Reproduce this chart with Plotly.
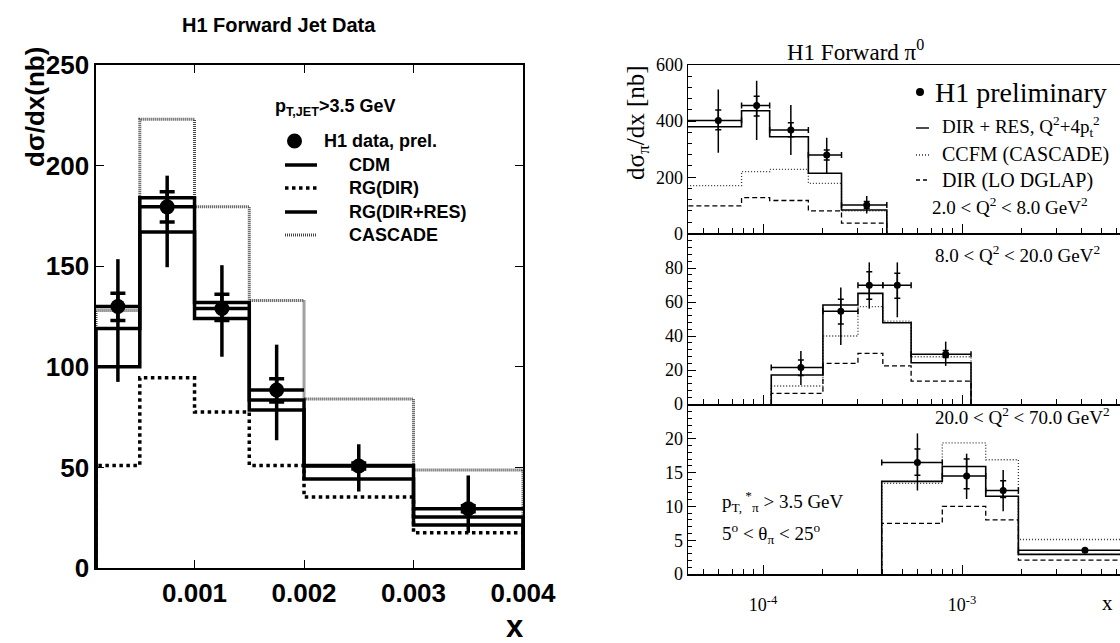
import plotly.graph_objects as go

W, H = 1120, 643
def px(x): return x / W
def py(y): return 1 - y / H

# ---------------- Left panel data (H1 forward jets) ----------------
jet_edges = [0.0001, 0.0005, 0.001, 0.0015, 0.002, 0.003, 0.004]
jet_x = [0.0003, 0.00075, 0.00125, 0.00175, 0.0025, 0.0035]
jet_y = [130, 179.5, 129, 88.5, 50.7, 29.5]
jet_tot_up = [153.5, 195, 150.5, 111, 61.5, 46]
jet_tot_dn = [92.5, 149.5, 105, 63.5, 38, 17.5]
jet_stat_up = [136.5, 187, 136, 94, 52.2, 31]
jet_stat_dn = [123, 172, 123, 82.5, 49.2, 28]
cdm = [100, 184, 132, 83.5, 51, 25.3]
rg_dir = [51, 94.5, 77.5, 51, 35.3, 17.5]
rg_dirres = [119, 167, 124, 78.5, 44.2, 21.4]
cascade = [128, 223, 179.5, 133, 84, 48.7]
jet_xticks = [0.001, 0.002, 0.003, 0.004]
jet_xticklabels = ["0.001", "0.002", "0.003", "0.004"]

# ---------------- Right panels data (H1 forward pi0) ----------------
top_edges = [4.0e-5, 7.8e-5, 1.08e-4, 1.69e-4, 2.48e-4, 4.19e-4]
top_x = [5.96e-5, 9.29e-5, 1.38e-4, 2.09e-4, 3.32e-4]
top_y = [402, 456, 368, 279, 101]
top_tot_up = [513, 544, 457, 341, 133]
top_tot_dn = [287, 333, 279, 214, 71]
top_stat_up = [440, 489, 394, 297, 113]
top_stat_dn = [369, 418, 344, 261, 89]
top_dirres = [380, 437, 344, 214, 83]
top_ccfm = [170, 220, 228, 178, 80]
top_dir = [98, 127, 117, 80, 36]

mid_edges = [1.1e-4, 2.0e-4, 3.0e-4, 4.0e-4, 5.55e-4, 1.11e-3]
mid_x = [1.55e-4, 2.46e-4, 3.42e-4, 4.73e-4, 8.28e-4]
mid_y = [21.4, 54.5, 69.8, 69.8, 29.2]
mid_tot_up = [31.2, 68.6, 83.3, 83.3, 36.7]
mid_tot_dn = [11.2, 34.7, 56.1, 51.0, 22.4]
mid_stat_up = [25.9, 61.6, 77.8, 76.9, 31.4]
mid_stat_dn = [16.7, 47.0, 61.6, 62.2, 27.3]
mid_dirres = [17.1, 58.2, 65.1, 47.8, 24.3]
mid_ccfm = [10.6, 40.0, 57.3, 48.8, 27.8]
mid_dir = [6.3, 23.9, 29.8, 22.4, 13.5]

bot_edges = [3.95e-4, 7.96e-4, 1.316e-3, 1.92e-3, 8.0e-3]
bot_x = [5.97e-4, 1.055e-3, 1.61e-3, 4.15e-3]
bot_y = [16.5, 14.5, 12.35, 3.53]
bot_tot_up = [20.8, 17.8, 15.4, 3.85]
bot_tot_dn = [12.35, 11.1, 9.3, 3.2]
bot_stat_up = [18.5, 17.0, 13.8, 3.7]
bot_stat_dn = [14.6, 12.6, 11.3, 3.35]
bot_dirres = [13.7, 15.9, 11.5, 2.9]
bot_ccfm = [13.4, 19.4, 16.9, 5.1]
bot_dir = [7.5, 10.0, 8.0, 2.06]

log_major = [1e-4, 1e-3]
log_major_labels = ["10<sup>-4</sup>", "10<sup>-3</sup>"]
log_minor = [m * d for d in (1e-5, 1e-4, 1e-3) for m in range(2, 10)]

SANS = "Liberation Sans, Arial, Helvetica, sans-serif"
SERIF = "Liberation Serif, Times New Roman, serif"


def step(edges, vals):
    xs, ys = [edges[0]], [0]
    for i, v in enumerate(vals):
        xs += [edges[i], edges[i + 1]]
        ys += [v, v]
    xs.append(edges[-1])
    ys.append(0)
    return xs, ys


def xerr(edges, xs):
    lo = [x - edges[i] for i, x in enumerate(xs)]
    hi = [edges[i + 1] - x for i, x in enumerate(xs)]
    return hi, lo


fig = go.Figure()

# ---- left histograms
for vals, dash, width, color in [
    (cascade, "1px,1px", 3, "#444444"),
    (rg_dir, "dot", 3.5, "black"),
    (cdm, "solid", 3.5, "black"),
    (rg_dirres, "solid", 3.5, "black"),
]:
    xs, ys = step(jet_edges, vals)
    fig.add_trace(go.Scatter(x=xs, y=ys, mode="lines", xaxis="x", yaxis="y",
                             line=dict(color=color, width=width, dash=dash),
                             hoverinfo="skip"))

hi, lo = xerr(jet_edges, jet_x)
fig.add_trace(go.Scatter(
    x=jet_x, y=jet_y, mode="markers", xaxis="x", yaxis="y",
    marker=dict(size=15, color="black"),
    error_y=dict(type="data", symmetric=False,
                 array=[u - y for u, y in zip(jet_tot_up, jet_y)],
                 arrayminus=[y - d for d, y in zip(jet_tot_dn, jet_y)],
                 width=0, thickness=3.5, color="black"),
    error_x=dict(type="data", symmetric=False, array=hi, arrayminus=lo,
                 width=0, thickness=3.5, color="black")))
fig.add_trace(go.Scatter(
    x=jet_x, y=jet_y, mode="markers", xaxis="x", yaxis="y",
    marker=dict(size=1, opacity=0),
    error_y=dict(type="data", symmetric=False,
                 array=[u - y for u, y in zip(jet_stat_up, jet_y)],
                 arrayminus=[y - d for d, y in zip(jet_stat_dn, jet_y)],
                 width=7.5, thickness=3.5, color="black")))

# ---- right panels
panels = [
    ("x2", "y2", top_edges, top_x, top_y, top_tot_up, top_tot_dn, top_stat_up, top_stat_dn,
     top_dirres, top_ccfm, top_dir),
    ("x3", "y3", mid_edges, mid_x, mid_y, mid_tot_up, mid_tot_dn, mid_stat_up, mid_stat_dn,
     mid_dirres, mid_ccfm, mid_dir),
    ("x4", "y4", bot_edges, bot_x, bot_y, bot_tot_up, bot_tot_dn, bot_stat_up, bot_stat_dn,
     bot_dirres, bot_ccfm, bot_dir),
]
for xa, ya, edges, xs_, ys_, tu, td, su, sd, dr, cc, di in panels:
    for vals, dash, width, color in [
        (cc, "1px,2px", 1.3, "#333333"),
        (di, "5px,3px", 1.3, "black"),
        (dr, "solid", 1.6, "black"),
    ]:
        sx, sy = step(edges, vals)
        fig.add_trace(go.Scatter(x=sx, y=sy, mode="lines", xaxis=xa, yaxis=ya,
                                 line=dict(color=color, width=width, dash=dash),
                                 hoverinfo="skip"))
    hi, lo = xerr(edges, xs_)
    fig.add_trace(go.Scatter(
        x=xs_, y=ys_, mode="markers", xaxis=xa, yaxis=ya,
        marker=dict(size=7, color="black"),
        error_y=dict(type="data", symmetric=False,
                     array=[u - y for u, y in zip(tu, ys_)],
                     arrayminus=[y - d for d, y in zip(td, ys_)],
                     width=0, thickness=1.5, color="black"),
        error_x=dict(type="data", symmetric=False, array=hi, arrayminus=lo,
                     width=3, thickness=1.5, color="black")))
    fig.add_trace(go.Scatter(
        x=xs_, y=ys_, mode="markers", xaxis=xa, yaxis=ya,
        marker=dict(size=1, opacity=0),
        error_y=dict(type="data", symmetric=False,
                     array=[u - y for u, y in zip(su, ys_)],
                     arrayminus=[y - d for d, y in zip(sd, ys_)],
                     width=3, thickness=1.5, color="black")))

# ---- axes
left_ax = dict(showline=True, linewidth=1.6, linecolor="black", mirror="ticks",
               ticks="inside", ticklen=8, tickwidth=1, tickcolor="black",
               showgrid=False, zeroline=False, automargin=False,
               tickfont=dict(family=SANS, size=26, color="black", weight="bold"))
xr = dict(type="log", range=[-4.377, -2.206], showline=True, linewidth=1.5,
          linecolor="black", mirror=True, ticks="inside", ticklen=9, tickwidth=1,
          tickcolor="black", showgrid=False, zeroline=False, automargin=False,
          tickmode="array", tickvals=log_major, ticktext=log_major_labels,
          minor=dict(tickmode="array", tickvals=log_minor, ticks="inside",
                     ticklen=5, tickwidth=1, tickcolor="black", showgrid=False),
          tickfont=dict(family=SERIF, size=18, color="black"))
yr = dict(showline=True, linewidth=1.5, linecolor="black", mirror=False,
          ticks="inside", ticklen=8, tickwidth=1, tickcolor="black",
          showgrid=False, zeroline=False, automargin=False,
          tickfont=dict(family=SERIF, size=18, color="black"))

fig.update_layout(
    width=W, height=H, margin=dict(l=0, r=0, t=0, b=0),
    paper_bgcolor="white", plot_bgcolor="white", showlegend=False,
    xaxis=dict(left_ax, domain=[px(96), px(523)], range=[0.0001, 0.004], anchor="y",
               tickmode="array", tickvals=jet_xticks, ticktext=jet_xticklabels,
               ticklabelstandoff=1),
    yaxis=dict(left_ax, domain=[py(568), py(65)], range=[0, 250], anchor="x",
               tickmode="array", tickvals=[0, 50, 100, 150, 200, 250]),
    xaxis2=dict(xr, domain=[px(688), 1], anchor="y2", showticklabels=False),
    yaxis2=dict(yr, domain=[py(233.3), py(65)], range=[0, 600], anchor="x2",
                tickvals=[0, 200, 400, 600],
                minor=dict(dtick=40, ticks="inside", ticklen=4, tickcolor="black")),
    xaxis3=dict(xr, domain=[px(688), 1], anchor="y3", showticklabels=False, matches="x2"),
    yaxis3=dict(yr, domain=[py(404), py(234)], range=[0, 100], anchor="x3",
                tickvals=[0, 20, 40, 60, 80],
                minor=dict(dtick=4, ticks="inside", ticklen=4, tickcolor="black")),
    xaxis4=dict(xr, domain=[px(688), 1], anchor="y4", matches="x2", ticklabelstandoff=14),
    yaxis4=dict(yr, domain=[py(574), py(405)], range=[0, 25], anchor="x4",
                tickvals=[0, 5, 10, 15, 20],
                minor=dict(dtick=1, ticks="inside", ticklen=4, tickcolor="black")),
)

ann = []
def A(text, x, y, size, family, xanchor="left", yanchor="middle", bold=False, angle=0):
    ann.append(dict(text=text, x=px(x), y=py(y), xref="paper", yref="paper",
                    xanchor=xanchor, yanchor=yanchor, showarrow=False, textangle=angle,
                    font=dict(family=family, size=size, color="black",
                              weight="bold" if bold else "normal")))

# left texts
A("H1 Forward Jet Data", 279, 25, 20, SANS, "center", bold=True)
A("dσ/dx(nb)", 35, 107, 26, SANS, "center", bold=True, angle=-90)
A("x", 515, 626, 31, SANS, "center", bold=True)
A("p<sub>T,JET</sub>&gt;3.5 GeV", 273, 108, 18, SANS, bold=True)
A("H1 data, prel.", 322, 141, 18, SANS, bold=True)
A("CDM", 347, 165, 18, SANS, bold=True)
A("RG(DIR)", 347, 188, 18, SANS, bold=True)
A("RG(DIR+RES)", 347, 212, 18, SANS, bold=True)
A("CASCADE", 347, 235, 18, SANS, bold=True)

# right texts
A("H1 Forward π<sup>0</sup>", 855, 50, 23, SERIF, "center")
A("dσ<sub>π</sub>/dx [nb]", 637, 123, 25, SERIF, "center", angle=-90)
A("H1 preliminary", 933, 92, 28, SERIF)
A("DIR + RES, Q<sup>2</sup>+4p<sub>t</sub><sup>2</sup>", 940, 127, 19, SERIF)
A("CCFM (CASCADE)", 940, 154, 20, SERIF)
A("DIR (LO DGLAP)", 940, 180, 20, SERIF)
A("2.0 &lt; Q<sup>2</sup> &lt; 8.0 GeV<sup>2</sup>", 930, 206, 19, SERIF)
A("8.0 &lt; Q<sup>2</sup> &lt; 20.0 GeV<sup>2</sup>", 933, 254, 19, SERIF)
A("20.0 &lt; Q<sup>2</sup> &lt; 70.0 GeV<sup>2</sup>", 933, 416, 19, SERIF)
A("p<sub>T, </sub><sup>*</sup><sub>π</sub> &gt; 3.5 GeV", 720, 502, 19, SERIF)
A("5<sup>o</sup> &lt; θ<sub>π</sub> &lt; 25<sup>o</sup>", 720, 533, 19, SERIF)
A("x", 1107, 603, 21, SERIF, "center")
fig.update_layout(annotations=ann)

# legend symbols (paper coordinates)
shapes = []
shapes.append(dict(type="circle", xref="paper", yref="paper",
                   x0=px(287), x1=px(302), y0=py(148.5), y1=py(133.5),
                   fillcolor="black", line=dict(color="black", width=0)))
for yy, dash, w, c in [(165, "solid", 3.5, "black"), (188, "dot", 3.5, "black"),
                       (212, "solid", 3.5, "black"), (235, "1px,1px", 3, "#444444")]:
    shapes.append(dict(type="line", xref="paper", yref="paper",
                       x0=px(285), x1=px(317), y0=py(yy), y1=py(yy),
                       line=dict(color=c, width=w, dash=dash)))
shapes.append(dict(type="circle", xref="paper", yref="paper",
                   x0=px(916), x1=px(924), y0=py(96), y1=py(88),
                   fillcolor="black", line=dict(color="black", width=0)))
for yy, dash, c in [(128, "solid", "black"), (155, "1px,2px", "#333333"), (180, "4px,3px", "black")]:
    shapes.append(dict(type="line", xref="paper", yref="paper",
                       x0=px(916), x1=px(929), y0=py(yy), y1=py(yy),
                       line=dict(color=c, width=1.4, dash=dash)))
fig.update_layout(shapes=shapes)

fig.write_html(
    "out.html",
    config={"displayModeBar": False, "staticPlot": True},
    post_script="document.body.style.margin='0';document.body.style.padding='0';"
                "document.documentElement.style.overflow='hidden';",
)
